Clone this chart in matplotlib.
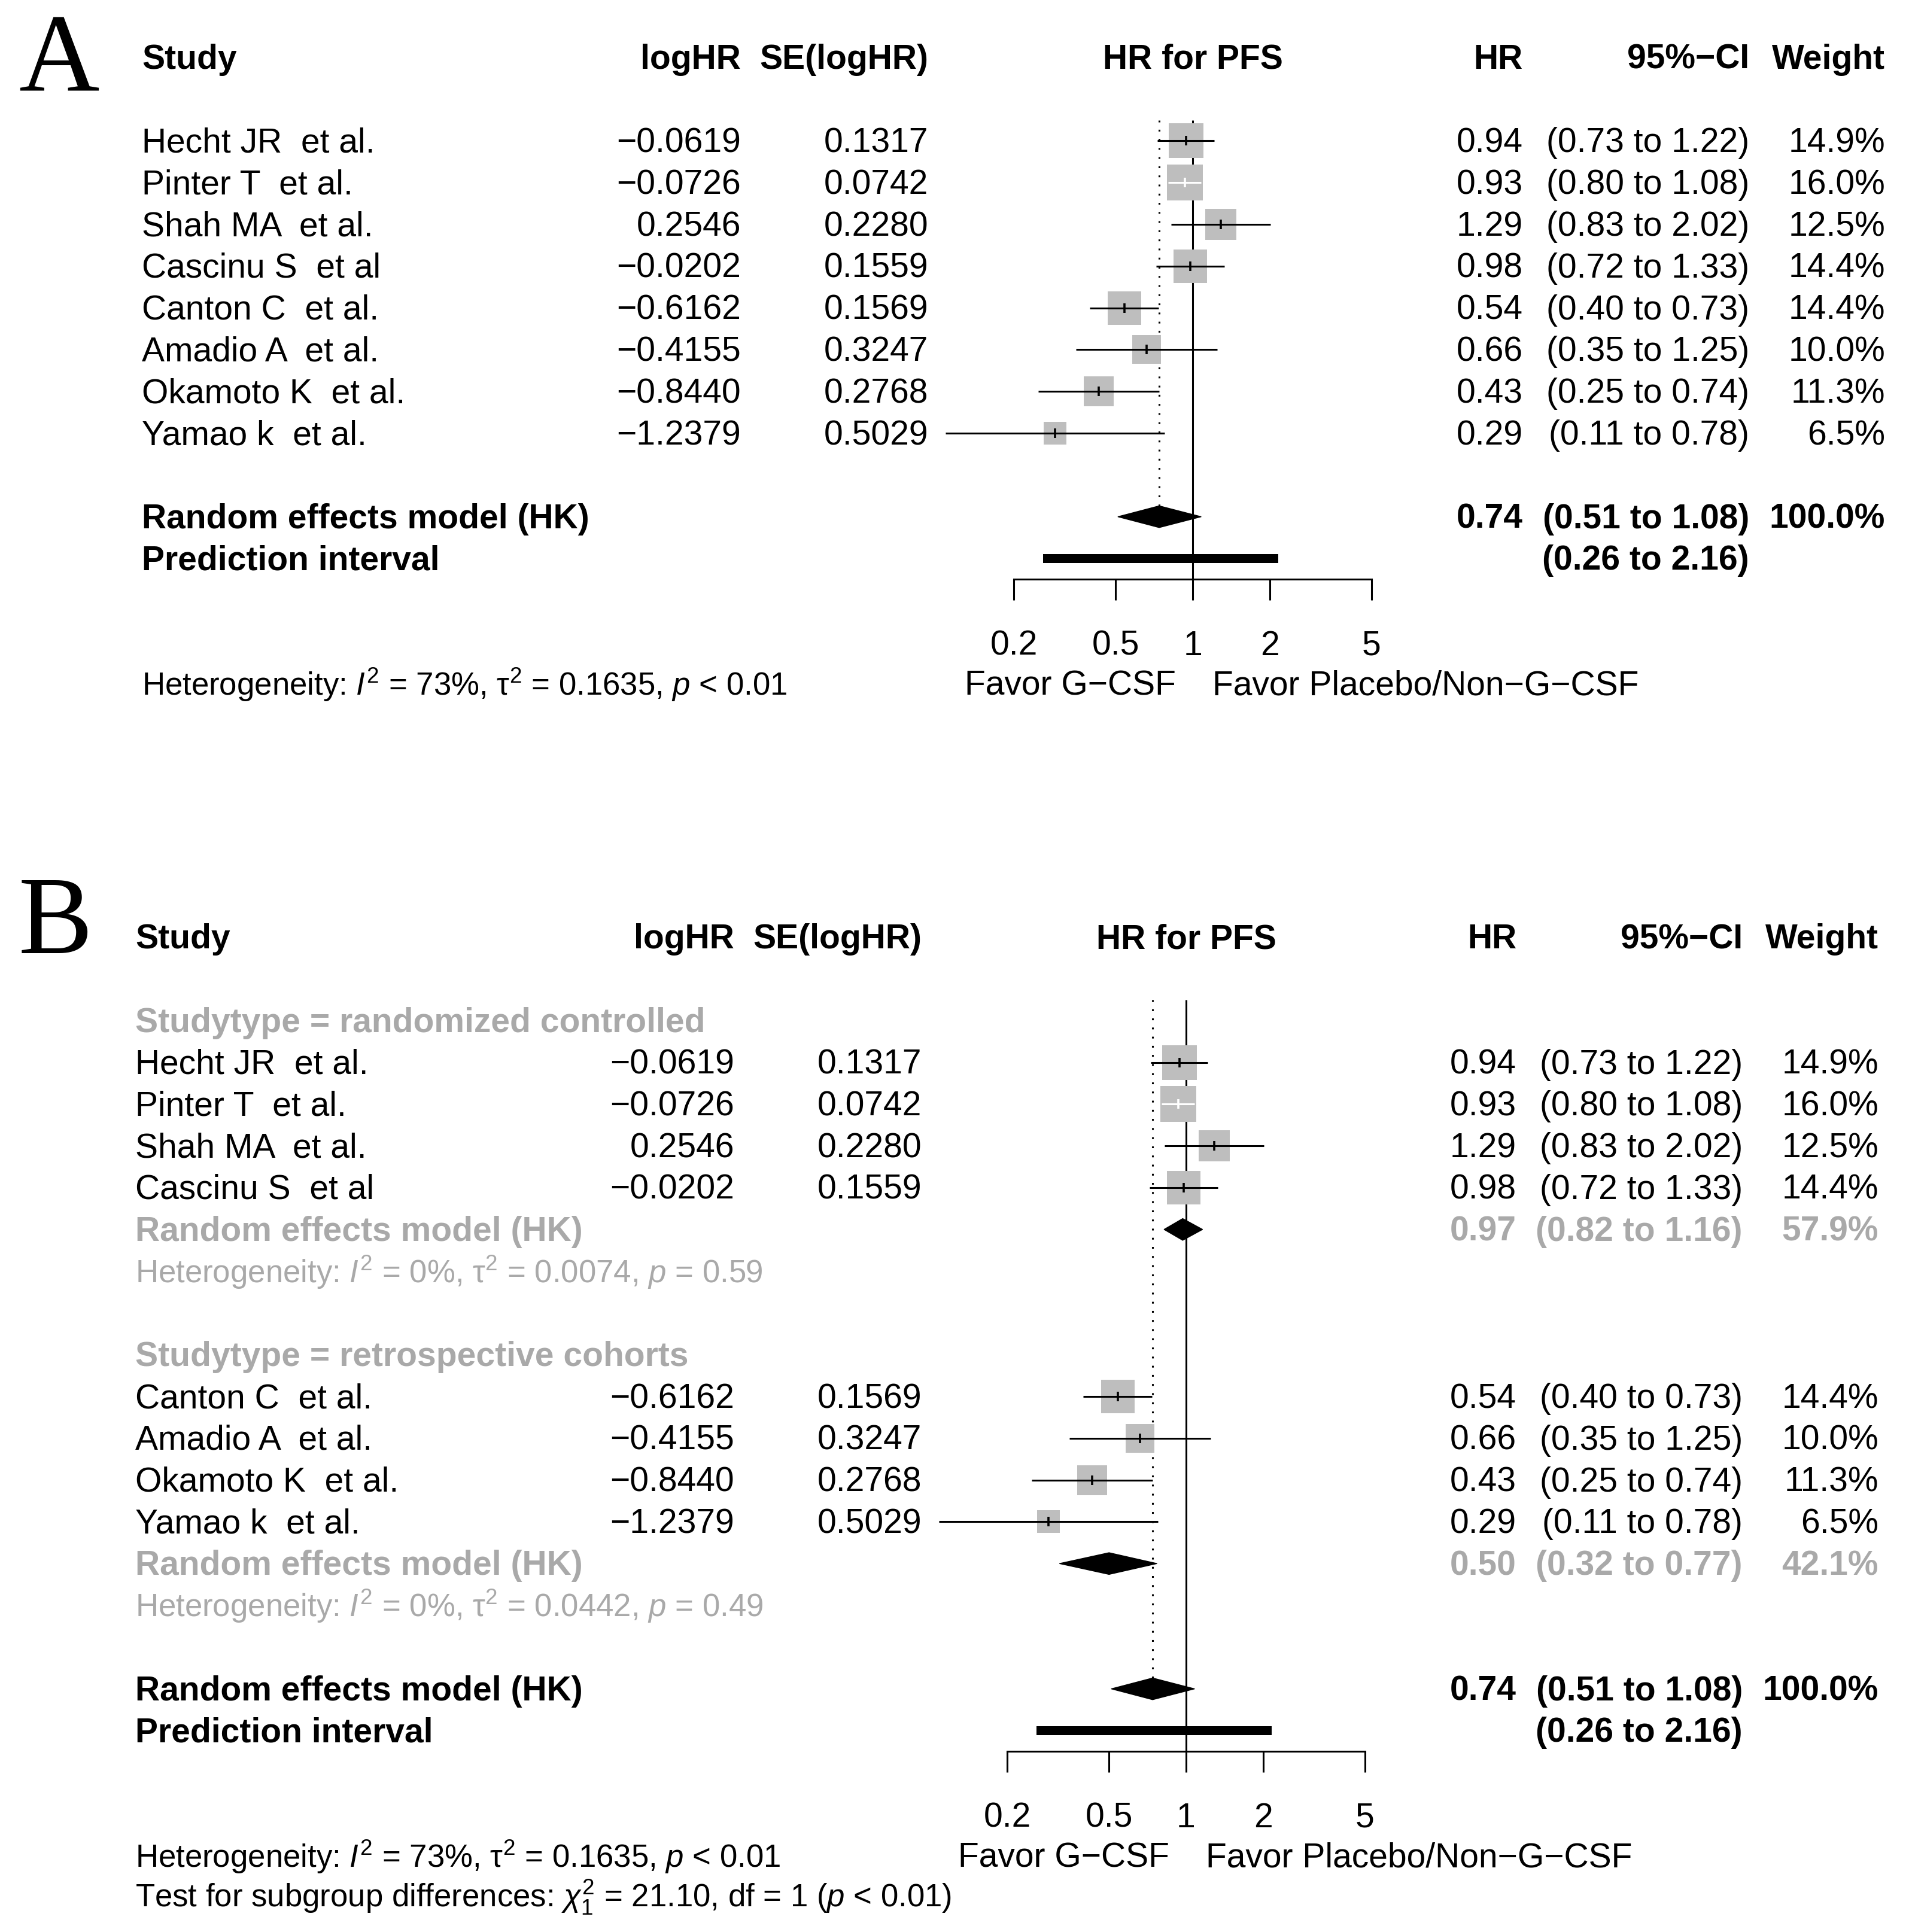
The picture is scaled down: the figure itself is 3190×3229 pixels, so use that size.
import numpy as np
import matplotlib
matplotlib.use("Agg")
import matplotlib.pyplot as plt
from matplotlib.transforms import blended_transform_factory, offset_copy
from matplotlib.patches import Polygon, Rectangle

plt.rcParams['font.family'] = ['Liberation Sans', 'DejaVu Sans']
plt.rcParams['mathtext.fontset'] = 'custom'
plt.rcParams['mathtext.rm'] = 'Liberation Sans'
plt.rcParams['mathtext.it'] = 'Liberation Sans:italic'
plt.rcParams['mathtext.bf'] = 'Liberation Sans:bold'

## data
studies = ["Hecht JR  et al.", "Pinter T  et al.", "Shah MA  et al.", "Cascinu S  et al",
           "Canton C  et al.", "Amadio A  et al.", "Okamoto K  et al.", "Yamao k  et al."]
loghr = [-0.0619, -0.0726, 0.2546, -0.0202, -0.6162, -0.4155, -0.8440, -1.2379]
se_loghr = [0.1317, 0.0742, 0.2280, 0.1559, 0.1569, 0.3247, 0.2768, 0.5029]
weights = [14.9, 16.0, 12.5, 14.4, 14.4, 10.0, 11.3, 6.5]
study_group = [0, 0, 0, 0, 1, 1, 1, 1]

group_labels = ["Studytype = randomized controlled", "Studytype = retrospective cohorts"]
group_hr = [0.97, 0.50]
group_lo = [0.82, 0.32]
group_hi = [1.16, 0.77]
group_w = [57.9, 42.1]
group_het = [r"Heterogeneity: $I^2$ = 0%, $\mathrm{\tau}^2$ = 0.0074, $p$ = 0.59",
             r"Heterogeneity: $I^2$ = 0%, $\mathrm{\tau}^2$ = 0.0442, $p$ = 0.49"]

re_hr, re_lo, re_hi = 0.74, 0.51, 1.08
pi_lo, pi_hi = 0.26, 2.16
overall_het = r"Heterogeneity: $I^2$ = 73%, $\mathrm{\tau}^2$ = 0.1635, $p$ < 0.01"
subgroup_test = r"Test for subgroup differences: $\chi^2_1$ = 21.10, df = 1 ($p$ < 0.01)"

ticks = [0.2, 0.5, 1, 2, 5]
tick_labels = ["0.2", "0.5", "1", "2", "5"]
label_left = "Favor G\u2212CSF"
label_right = "Favor Placebo/Non\u2212G\u2212CSF"

## layout (pixels)
W, H = 3190, 3230
FS = 41
FS_HET = 38
ROW = 69.8
LW = 2.2
SQ_COL = '#bebebe'
GREY = '#a9a9a9'
PX_PER_SQRTW = 14.95   # square side per sqrt(weight)
TXT_DY = 3             # nudge text up (pixels)

fig = plt.figure(figsize=(W / 100, H / 100), dpi=100)


def m(s):
    return s.replace('-', '\u2212')


def make_axes(x0, x1, y_head, nrows, axis_row):
    top = y_head - 0.5 * ROW
    bot = y_head + nrows * ROW
    ax = fig.add_axes([x0 / W, 1 - bot / H, (x1 - x0) / W, (bot - top) / H])
    ax.set_xscale('log')
    ax.set_xlim(0.2, 5)
    ax.set_ylim(nrows, -0.5)
    ax.patch.set_visible(False)
    for s in ['top', 'left', 'right']:
        ax.spines[s].set_visible(False)
    ax.spines['bottom'].set_position(('data', axis_row))
    ax.spines['bottom'].set_linewidth(LW)
    ax.set_yticks([])
    ax.set_xticks(ticks)
    ax.set_xticklabels(tick_labels)
    ax.minorticks_off()
    ax.tick_params(axis='x', direction='out', length=25, width=LW, labelsize=FS, pad=35)
    return ax


def put(ax, xpx, row, s, ha='left', bold=False, color='black', size=FS, dy=TXT_DY):
    tr = blended_transform_factory(fig.transFigure, ax.transData)
    tr = offset_copy(tr, fig, x=0, y=dy, units='dots')
    ax.text(xpx / W, row, s, transform=tr, ha=ha, va='center_baseline', fontsize=size,
            fontweight='bold' if bold else 'normal', color=color, clip_on=False)


def draw_study(ax, cols, row, i):
    est = loghr[i]
    hr = np.exp(est)
    lo = np.exp(est - 1.96 * se_loghr[i])
    hi = np.exp(est + 1.96 * se_loghr[i])
    side_px = PX_PER_SQRTW * np.sqrt(weights[i])
    ax.scatter([hr], [row], s=(side_px * 0.72) ** 2, marker='s', color=SQ_COL,
               linewidths=0, zorder=2, clip_on=False)
    px_per_ln = ax.bbox.width / np.log(5 / 0.2)
    half = 0.5 * side_px / px_per_ln
    inside = np.log(lo) >= est - half and np.log(hi) <= est + half
    col = 'white' if inside else 'black'
    ax.hlines(row, lo, hi, color=col, lw=LW, zorder=3, clip_on=False)
    ax.plot([hr], [row], marker='|', ms=12, mew=2.6, color=col, zorder=4, clip_on=False)

    put(ax, cols['study'], row, studies[i])
    put(ax, cols['loghr'], row, m(f"{loghr[i]:.4f}"), ha='right')
    put(ax, cols['se'], row, f"{se_loghr[i]:.4f}", ha='right')
    put(ax, cols['hr'], row, f"{hr:.2f}", ha='right')
    put(ax, cols['ci'], row, f"({lo:.2f} to {hi:.2f})", ha='right')
    put(ax, cols['w'], row, f"{weights[i]:.1f}%", ha='right')


def draw_diamond(ax, row, est, lo, hi):
    d = Polygon([(lo, row), (est, row - 0.26), (hi, row), (est, row + 0.26)],
                closed=True, facecolor='black', edgecolor='black', lw=1,
                zorder=5, clip_on=False)
    ax.add_patch(d)


def header(ax, cols):
    put(ax, cols['study'], 0, "Study", bold=True)
    put(ax, cols['loghr'], 0, "logHR", ha='right', bold=True)
    put(ax, cols['se'], 0, "SE(logHR)", ha='right', bold=True)
    ax.text(1, 0, "HR for PFS", ha='center', va='center_baseline', fontsize=FS,
            fontweight='bold', clip_on=False,
            transform=offset_copy(ax.transData, fig, x=0, y=TXT_DY, units='dots'))
    put(ax, cols['hr'], 0, "HR", ha='right', bold=True)
    put(ax, cols['ci'], 0, m("95%-CI"), ha='right', bold=True)
    put(ax, cols['w'], 0, "Weight", ha='right', bold=True)


def footer(ax, cols, re_row, axis_row):
    draw_diamond(ax, re_row, re_hr, re_lo, re_hi)
    put(ax, cols['study'], re_row, "Random effects model (HK)", bold=True)
    put(ax, cols['hr'], re_row, f"{re_hr:.2f}", ha='right', bold=True)
    put(ax, cols['ci'], re_row, f"({re_lo:.2f} to {re_hi:.2f})", ha='right', bold=True)
    put(ax, cols['w'], re_row, "100.0%", ha='right', bold=True)

    pi_row = re_row + 1
    ax.add_patch(Rectangle((pi_lo, pi_row - 0.105), pi_hi - pi_lo, 0.21,
                           facecolor='black', edgecolor='none', zorder=5, clip_on=False))
    put(ax, cols['study'], pi_row, "Prediction interval", bold=True)
    put(ax, cols['ci'], pi_row, f"({pi_lo:.2f} to {pi_hi:.2f})", ha='right', bold=True)

    # reference lines
    ax.vlines(1, 1.5, axis_row, color='black', lw=LW, zorder=1, clip_on=False)
    ax.vlines(re_hr, 1.5, re_row - 0.26, color='black', lw=LW, linestyles=(0, (1, 4)),
              zorder=1, clip_on=False)

    lab_row = axis_row + 2.5
    ax.text(1, lab_row, label_left, ha='right', va='center_baseline', fontsize=FS,
            transform=offset_copy(ax.transData, fig, x=-28, y=TXT_DY, units='dots'),
            clip_on=False)
    ax.text(1, lab_row, label_right, ha='left', va='center_baseline', fontsize=FS,
            transform=offset_copy(ax.transData, fig, x=33, y=TXT_DY, units='dots'),
            clip_on=False)
    return lab_row


def columns(dx):
    return {'study': 237 + dx, 'loghr': 1238 + dx, 'se': 1551 + dx,
            'hr': 2545 + dx, 'ci': 2923 + dx, 'w': 3150 + dx}


# ---------------- Panel A ----------------
colsA = columns(0)
axA = make_axes(1694, 2292, 96.8, 16, 12.5)
header(axA, colsA)
for k in range(len(studies)):
    draw_study(axA, colsA, 2 + k, k)
lab = footer(axA, colsA, 11, 12.5)
put(axA, colsA['study'], lab, overall_het, size=FS_HET, dy=6)
fig.text(31 / W, 1 - 153 / H, "A", family='Liberation Serif', fontsize=134,
         ha='left', va='baseline')

# ---------------- Panel B ----------------
dx = -11
colsB = columns(dx)
axB = make_axes(1694 + dx, 2292 + dx, 1567.2, 23.5, 19.5)
header(axB, colsB)
row = 2
for g, glab in enumerate(group_labels):
    put(axB, colsB['study'], row, glab, bold=True, color=GREY)
    row += 1
    for k in range(len(studies)):
        if study_group[k] == g:
            draw_study(axB, colsB, row, k)
            row += 1
    draw_diamond(axB, row, group_hr[g], group_lo[g], group_hi[g])
    put(axB, colsB['study'], row, "Random effects model (HK)", bold=True, color=GREY)
    put(axB, colsB['hr'], row, f"{group_hr[g]:.2f}", ha='right', bold=True, color=GREY)
    put(axB, colsB['ci'], row, f"({group_lo[g]:.2f} to {group_hi[g]:.2f})", ha='right',
        bold=True, color=GREY)
    put(axB, colsB['w'], row, f"{group_w[g]:.1f}%", ha='right', bold=True, color=GREY)
    row += 1
    put(axB, colsB['study'], row, group_het[g], color=GREY, size=FS_HET, dy=6)
    row += 2
lab = footer(axB, colsB, row, row + 1.5)
put(axB, colsB['study'], lab, overall_het, size=FS_HET, dy=6)
put(axB, colsB['study'], lab + 1, subgroup_test, size=FS_HET, dy=10)
fig.text(31 / W, 1 - 1593 / H, "B", family='Liberation Serif', fontsize=134,
         ha='left', va='baseline')

fig.savefig("out.png", dpi=100, facecolor='white')
